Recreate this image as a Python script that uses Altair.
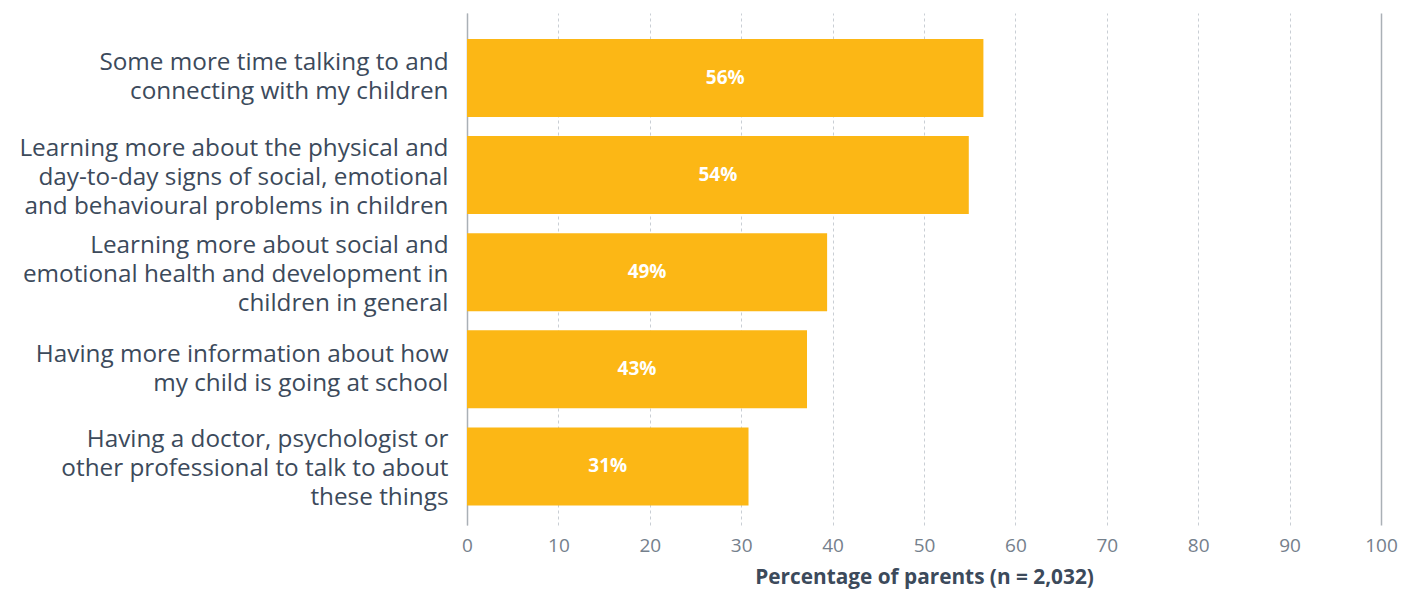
import altair as alt
import pandas as pd

categories = [
    "Some more time talking to and\nconnecting with my children",
    "Learning more about the physical and\nday-to-day signs of social, emotional\nand behavioural problems in children",
    "Learning more about social and\nemotional health and development in\nchildren in general",
    "Having more information about how\nmy child is going at school",
    "Having a doctor, psychologist or\nother professional to talk to about\nthese things",
]
bar_values = [56.5, 54.9, 39.4, 37.2, 30.8]
value_labels = ["56%", "54%", "49%", "43%", "31%"]
x_ticks = [0, 10, 20, 30, 40, 50, 60, 70, 80, 90, 100]

df = pd.DataFrame({"cat": categories, "val": bar_values, "lab": value_labels})

FONT = "Open Sans"
DARK = "#3c4a5b"
GREY = "#75808c"

y_enc = alt.Y(
    "cat:N",
    sort=categories,
    title=None,
    scale=alt.Scale(paddingInner=0.197, paddingOuter=0.235, align=0.57),
    axis=alt.Axis(
        labelExpr="split(datum.label, '\\n')",
        labelFont=FONT,
        labelFontSize=24.3,
        labelColor=DARK,
        labelLineHeight=29,
        labelPadding=19,
        labelLimit=0,
        labelOffset={
            "condition": {"test": "length(split(datum.label, '\\n')) === 3", "value": -26.5},
            "value": -14.5,
        },
        ticks=False,
        domain=True,
        domainColor="#aab0b6",
        domainWidth=1.5,
        grid=False,
    ),
)

x_enc = alt.X(
    "val:Q",
    scale=alt.Scale(domain=[0, 100], nice=False),
    title="Percentage of parents (n = 2,032)",
    axis=alt.Axis(
        values=x_ticks,
        labelFont=FONT,
        labelFontSize=19,
        labelColor=GREY,
        labelPadding=11,
        labelFlush=False,
        ticks=False,
        domain=False,
        grid=True,
        gridColor={"condition": {"test": "datum.value === 100", "value": "#aab0b6"}, "value": "#c9ced4"},
        gridDash={"condition": {"test": "datum.value === 100", "value": [1, 0]}, "value": [3, 3]},
        gridWidth={"condition": {"test": "datum.value === 100", "value": 1.5}, "value": 1},
        titleFont=FONT,
        titleFontSize=20.8,
        titleFontWeight="bold",
        titleColor=DARK,
        titlePadding=12,
    ),
)

bars = alt.Chart(df).mark_bar(color="#FCB715").encode(x=x_enc, y=y_enc)

texts = alt.Chart(df).mark_text(
    color="white", font=FONT, fontSize=19, fontWeight="bold"
).encode(
    x=alt.X("mid:Q"),
    y=alt.Y("cat:N", sort=categories),
    text="lab:N",
).transform_calculate(mid="datum.val / 2")

chart = (
    alt.layer(bars, texts)
    .properties(
        width=914,
        height=512,
        autosize=alt.AutoSizeParams(type="none"),
        padding={"left": 467, "top": 13, "right": 23, "bottom": 64},
        background="white",
    )
    .configure_view(stroke=None)
)

chart.save("out.html", embed_options={"renderer": "svg", "actions": False})
